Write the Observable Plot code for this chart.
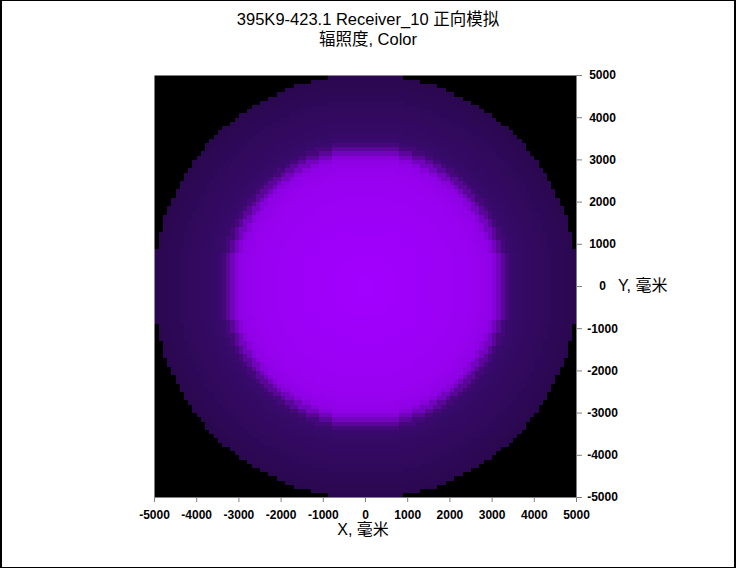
<!DOCTYPE html>
<html>
<head>
<meta charset="utf-8">
<script src="https://cdn.jsdelivr.net/npm/d3@7"></script>
<script src="https://cdn.jsdelivr.net/npm/@observablehq/plot@0.6"></script>
<style>
  html, body { margin: 0; padding: 0; background: #fff; }
  #wrap { position: relative; width: 736px; height: 568px; overflow: hidden; background: #fff;
          font-family: "Liberation Sans", Arial, "Noto Sans CJK SC", sans-serif; color: #000; }
  #wrap svg { position: absolute; left: 0; top: 0; }
  .t { position: absolute; white-space: nowrap; font-size: 15px; line-height: 20px; }
  #border { position: absolute; left: 0; top: 0; width: 736px; height: 568px; box-sizing: border-box;
            border-top: 1px solid #000; border-left: 2px solid #000; border-right: 2px solid #000; border-bottom: 1px solid #000; pointer-events: none; }
</style>
</head>
<body>
<div id="wrap">
  <div class="t" id="title1" style="left:0;width:736px;text-align:center;top:9px;font-size:16.5px;">395K9-423.1 Receiver_10 正向模拟</div>
  <div class="t" id="title2" style="left:0;width:736px;text-align:center;top:29px;font-size:16.5px;">辐照度, Color</div>
  <div class="t" id="xlabel" style="left:313px;width:100px;text-align:center;top:520px;font-size:16px;">X, 毫米</div>
  <div class="t" id="ylabel" style="left:618px;top:276px;font-size:16px;">Y, 毫米</div>
  <div id="border"></div>
</div>
<script>
// Axis ticks (mm)
const xTicks = [-5000, -4000, -3000, -2000, -1000, 0, 1000, 2000, 3000, 4000, 5000];
const yTicks = [-5000, -4000, -3000, -2000, -1000, 0, 1000, 2000, 3000, 4000, 5000];
// Receiver extent (mm) and grid size (cells per side)
const extent = [-5000, 5000];
const gridCells = 100;
// Radial irradiance profile (relative), read every 100 mm from center out to 5000 mm
const profileStep = 100;
const profile = [
  1.0, 1.0, 1.0, 0.995, 0.995, 0.99, 0.99, 0.99, 0.985, 0.985, 0.98,
  0.98, 0.98, 0.975, 0.975, 0.97, 0.97, 0.97, 0.965, 0.965, 0.96,
  0.96, 0.955, 0.95, 0.95, 0.945,
  0.94, 0.935, 0.93, 0.92, 0.9,
  0.85, 0.74, 0.6, 0.48, 0.43,
  0.41, 0.4, 0.395, 0.39, 0.385,
  0.38, 0.375, 0.37, 0.365, 0.36,
  0.355, 0.35, 0.345, 0.34, 0.335
];
const receiverRadius = 5030;
// Color ramp
const colorDomain = [0, 0.33, 0.4, 1];
const colorRange = ["#000000", "#29084e", "#350966", "#a200ff"];

function irradiance(x, y) {
  const r = Math.hypot(x, y);
  if (r > receiverRadius) return 0;
  const i = Math.min(profile.length - 1, Math.round(r / profileStep));
  return profile[i];
}

const chart = Plot.plot({
  width: 736,
  height: 568,
  marginLeft: 154,
  marginRight: 160,
  marginTop: 75,
  marginBottom: 71,
  style: { fontFamily: "'Liberation Sans', Arial, sans-serif", fontSize: "12px", fontWeight: "bold", background: "transparent", color: "#000" },
  x: { domain: extent },
  y: { domain: extent },
  color: { type: "linear", domain: colorDomain, range: colorRange, interpolate: "rgb" },
  marks: [
    Plot.raster({
      fill: irradiance,
      x1: extent[0], x2: extent[1], y1: extent[0], y2: extent[1],
      width: gridCells, height: gridCells,
      imageRendering: "pixelated"
    }),
    Plot.ruleY([extent[0]], { stroke: "#808080" }),
    Plot.ruleX([extent[1]], { stroke: "#808080" }),
    Plot.axisX({ anchor: "bottom", ticks: xTicks, tickSize: 5, tickPadding: 8, tickFormat: d => `${d}`, stroke: "#808080", label: null }),
    Plot.axisY({ anchor: "right", ticks: yTicks, tickSize: 5, tickPadding: 21, textAnchor: "middle", tickFormat: d => `${d}`, stroke: "#808080", label: null })
  ]
});
document.getElementById("wrap").insertBefore(chart, document.getElementById("title1"));
</script>
</body>
</html>
